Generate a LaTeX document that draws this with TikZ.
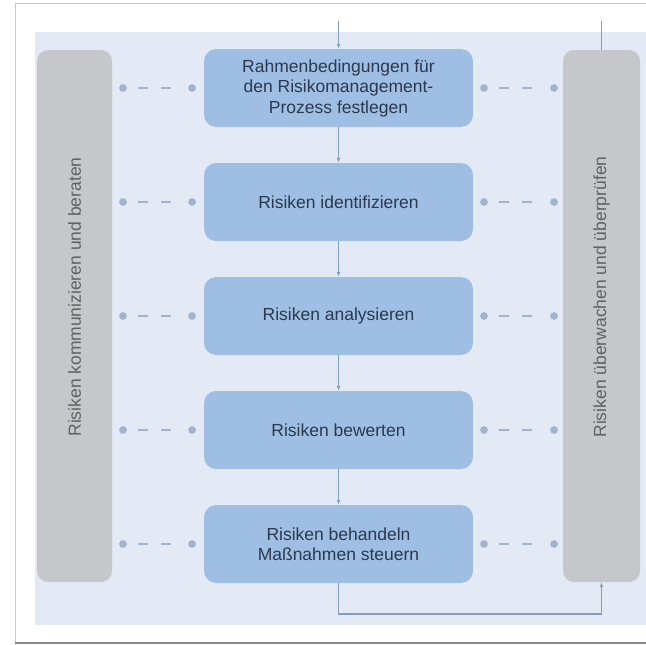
\documentclass[tikz,border=0pt]{standalone}
\usepackage{fontspec}
\setmainfont{Liberation Sans}
\usetikzlibrary{arrows.meta}
\definecolor{mypanel}{RGB}{227, 234, 245}
\definecolor{mybox}{RGB}{158, 191, 227}
\definecolor{mygray1}{RGB}{197, 199, 202}
\definecolor{myline}{RGB}{128, 158, 194}
\definecolor{mydash}{RGB}{160, 180, 206}
\definecolor{mytext}{RGB}{44, 56, 78}
\definecolor{myframe}{RGB}{160, 160, 160}

\begin{document}
\begin{tikzpicture}[
    x = 1pt, y = -1pt,
    pbox/.style = {fill = mybox, rounded corners = 12pt, minimum width = 269pt, minimum height = 78pt, align = center, text = mytext, font = \fontsize{17.5}{20.5}\selectfont, inner sep = 0pt},
    sidebox/.style = {fill = mygray1, rounded corners = 11pt, minimum height = 532pt, inner sep = 0pt},
    sidetext/.style = {rotate = 90, text = black!62, font = \fontsize{17.5}{20.5}\selectfont},
    flow/.style = {myline, line width = 1.4pt, -{Latex[length = 5pt, width = 4pt]}},
    dlink/.style = {mydash, line width = 2.8pt, {Circle[length = 7.5pt]}-{Circle[length = 7.5pt]}, dash pattern = on 0pt off 13pt on 10pt off 13pt on 10pt off 40pt}
]
\clip (0,0) rectangle (646,645);
\fill[white] (0,0) rectangle (646,645);

% frame and panel
\draw[myframe!60, line width = 1pt] (660,3.5) -- (15,3.5) -- (15,643);
\draw[myframe!85!black, line width = 2.5pt] (15,643) -- (660,643);
\fill[mypanel] (35,32) rectangle (646,625);

% side boxes
\node[sidebox, minimum width = 75pt] (lbox) at (74.5, 316) {};
\node[sidebox, minimum width = 77pt] (rbox) at (601.5, 316) {};
\node[sidetext] (ltext) at (74.5, 297) {Risiken kommunizieren und beraten};
\node[sidetext] (rtext) at (601.5, 297) {Risiken überwachen und überprüfen};

% process steps
\node[pbox] (b1) at (338.5, 88) {Rahmenbedingungen für\\den Risikomanagement-\\Prozess festlegen};
\node[pbox] (b2) at (338.5, 202) {Risiken identifizieren};
\node[pbox] (b3) at (338.5, 316) {Risiken analysieren};
\node[pbox] (b4) at (338.5, 430) {Risiken bewerten};
\node[pbox] (b5) at (338.5, 544) {Risiken behandeln\\Maßnahmen steuern};

\coordinate (intop) at (338.5, 21);
\coordinate (rtop) at (601.5, 21);
\coordinate (loopa) at (338.5, 614);
\coordinate (loopb) at (601.5, 614);

\draw[flow] (intop) -- (b1.north);
\draw[flow] (b1) -- (b2);
\draw[flow] (b2) -- (b3);
\draw[flow] (b3) -- (b4);
\draw[flow] (b4) -- (b5);
\draw[myline, line width = 1.4pt] (rbox.north) -- (rtop);
\draw[flow] (b5.south) -- (loopa) -- (loopb) -- (rbox.south);

\foreach \b in {b1, b2, b3, b4, b5}{
  \draw[dlink, shorten <= 7pt, shorten >= 8pt] (lbox.east |- \b.west) -- (\b.west);
  \draw[dlink, shorten <= 7pt, shorten >= 5pt] (\b.east) -- (rbox.west |- \b.east);
}

\end{tikzpicture}
\end{document}
